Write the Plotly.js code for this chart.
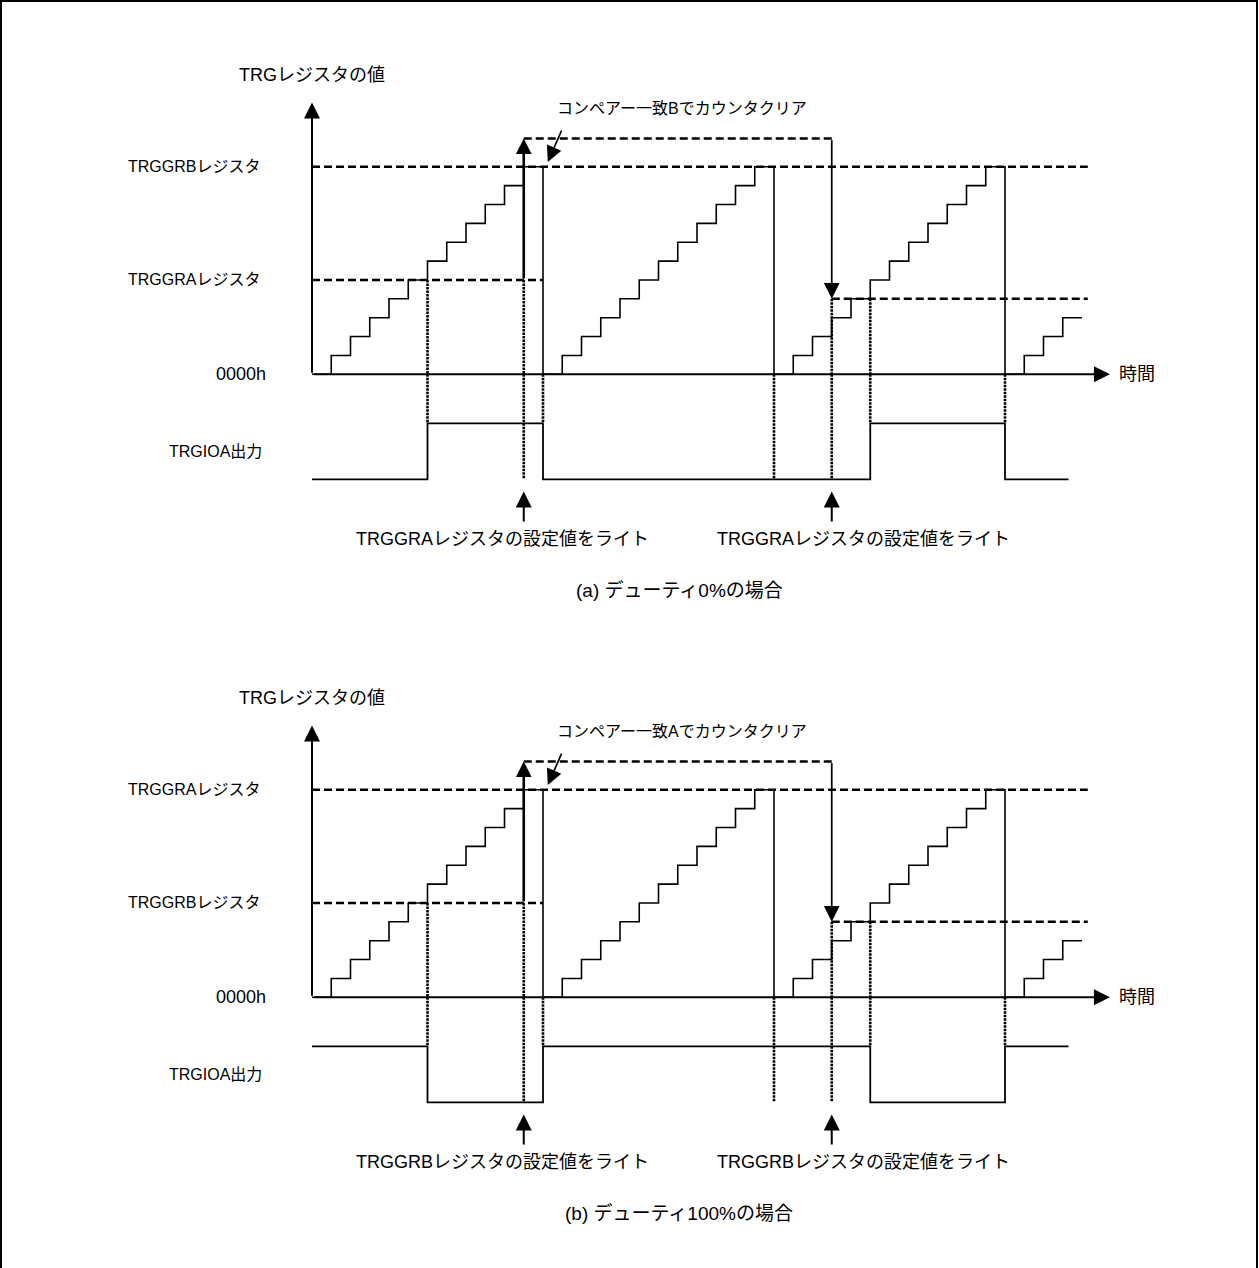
<!DOCTYPE html>
<html>
<head>
<meta charset="utf-8">
<script src="https://cdn.plot.ly/plotly-3.0.1.min.js"></script>
<style>html,body{margin:0;padding:0;background:#fff;}</style>
</head>
<body>
<div id="chart" style="width:1259px;height:1268px;"></div>
<script>
// ================= DATA =================
// counter value (TRG register) at each count tick, step-wise
const COUNT_T = [0,1,2,3,4,5,6,7,8,9,10,11,12,13,14,15,16,17,18,19,20,21,22,23,24,25,26,27,28,29,30,31,32,33,34,35,36,37,38,39,40];
const COUNT_V = [0,1,2,3,4,5,6,7,8,9,10,11,0,1,2,3,4,5,6,7,8,9,10,11,0,1,2,3,4,5,6,7,8,9,10,11,0,1,2,3,3];
// TRGIOA output level (1 = high, 0 = low) changes
const IOA_T = [0, 6, 12, 29, 36, 39.3];
const IOA_A = [0, 1, 0, 1, 0, 0];   // (a) duty 0%
const IOA_B = [1, 0, 1, 0, 1, 1];   // (b) duty 100%
// register levels (counts)
const CLEAR_LEVEL = 11;       // register that clears the counter
const DUTY_LEVEL_OLD = 5;     // duty register before the write
const DUTY_LEVEL_NEW = 4;     // duty register after the write
const DUTY_OLD_END_T = 12;
const LEVEL_END_T = 40.3;
const WRITE_T = 11;           // register written
const WRITE_EFFECT_T = 27;    // new value takes effect
const WRITE_PATH_LEVEL = 12.5;
const CLEAR_T = 12;           // compare match -> counter clear
// dotted guide lines: time, counter level, output level
const GUIDE_T = [6, 11, 12, 24, 27, 29, 36];
const GUIDE_V = [5, 5, 0, 0, 4, 4, 0];
const GUIDE_IOA = [1, 0, 1, 0, 0, 1, 1];
const AXIS_T_END = 41.45;
const AXIS_V_END = 14.4;
// text
const Y_TITLE = 'TRGレジスタの値';
const X_TITLE = '時間';
const ZERO_LABEL = '0000h';
const IOA_LABEL = 'TRGIOA出力';
const PANEL_TEXT = [
  {clear: 'TRGGRBレジスタ', duty: 'TRGGRAレジスタ', match: 'コンペアー一致Bでカウンタクリア',
   write: 'TRGGRAレジスタの設定値をライト', caption: '(a) デューティ0%の場合'},
  {clear: 'TRGGRAレジスタ', duty: 'TRGGRBレジスタ', match: 'コンペアー一致Aでカウンタクリア',
   write: 'TRGGRBレジスタの設定値をライト', caption: '(b) デューティ100%の場合'}
];

// ================= LAYOUT GEOMETRY =================
const W = 1259, H = 1268;
const X0 = 312, PXT = 19.25, PXV = 18.87;
const IOA_PX = 56, IOA_LOW_OFF = 105;
const PANEL_V0 = [374.3, 997.3];
const FAMILY = "'Liberation Sans', Arial, 'Noto Sans CJK JP', sans-serif";
const FONT = {family: FAMILY, size: 18, color: '#000'};
const FONT_S = {family: FAMILY, size: 16, color: '#000'};
const FONT_L = {family: FAMILY, size: 19, color: '#000'};
const px = x => x / W;
const py = y => 1 - y / H;
const dom = (yb, yt) => [py(yb), py(yt)];

const CNT_RANGE = [-0.6, 16.5];
const IOA_RANGE = [-1.0, IOA_LOW_OFF / IOA_PX];

const traces = [];
const annotations = [];
const shapes = [];
const layout = {
  width: W, height: H,
  margin: {l: 0, r: 0, t: 0, b: 0, pad: 0},
  paper_bgcolor: '#fff', plot_bgcolor: 'rgba(0,0,0,0)',
  showlegend: false,
  font: FONT,
  xaxis: {domain: [0, 1], range: [-X0 / PXT, (W - X0) / PXT], visible: false, fixedrange: true}
};

function arrow(x, y, ax, ay, yref, w, size) {
  annotations.push({x: x, y: y, ax: ax, ay: ay, xref: 'x', yref: yref, axref: 'x', ayref: yref,
    text: '', showarrow: true, arrowhead: 2, arrowsize: size, arrowwidth: w, arrowcolor: '#000', standoff: 0});
}
function label(text, x, xref, y, yref, xanchor, font) {
  annotations.push({text: text, x: x, xref: xref, y: y, yref: yref, xanchor: xanchor, yanchor: 'middle',
    showarrow: false, font: font || FONT});
}

PANEL_V0.forEach((v0, p) => {
  const yc = p === 0 ? 'y' : 'y3';
  const yi = p === 0 ? 'y2' : 'y4';
  const T = PANEL_TEXT[p];
  layout[p === 0 ? 'yaxis' : 'yaxis3'] = {anchor: 'x', domain: dom(v0 - CNT_RANGE[0] * PXV, v0 - CNT_RANGE[1] * PXV),
    range: CNT_RANGE, visible: false, fixedrange: true};
  layout[p === 0 ? 'yaxis2' : 'yaxis4'] = {anchor: 'x', domain: dom(v0 + IOA_LOW_OFF - IOA_RANGE[0] * IOA_PX, v0),
    range: IOA_RANGE, visible: false, fixedrange: true};

  // counter staircase
  traces.push({type: 'scatter', mode: 'lines', x: COUNT_T, y: COUNT_V, xaxis: 'x', yaxis: yc,
    line: {shape: 'hv', color: '#000', width: 1.6}, hoverinfo: 'skip'});
  // output waveform
  traces.push({type: 'scatter', mode: 'lines', x: IOA_T, y: p === 0 ? IOA_A : IOA_B, xaxis: 'x', yaxis: yi,
    line: {shape: 'hv', color: '#000', width: 1.8}, hoverinfo: 'skip'});
  // dashed register levels
  traces.push({type: 'scatter', mode: 'lines', xaxis: 'x', yaxis: yc, hoverinfo: 'skip',
    x: [0, LEVEL_END_T, null, 0, DUTY_OLD_END_T, null, WRITE_EFFECT_T, LEVEL_END_T, null, WRITE_T, WRITE_EFFECT_T],
    y: [CLEAR_LEVEL, CLEAR_LEVEL, null, DUTY_LEVEL_OLD, DUTY_LEVEL_OLD, null, DUTY_LEVEL_NEW, DUTY_LEVEL_NEW, null, WRITE_PATH_LEVEL, WRITE_PATH_LEVEL],
    line: {color: '#000', width: 2.5, dash: '8px,4px'}});
  // dotted guides
  const gx = [], gy = [], hx = [], hy = [];
  GUIDE_T.forEach((t, i) => {
    gx.push(t, t, null); gy.push(GUIDE_V[i], 0, null);
    hx.push(t, t, null); hy.push(IOA_RANGE[1], GUIDE_IOA[i], null);
  });
  traces.push({type: 'scatter', mode: 'lines', x: gx, y: gy, xaxis: 'x', yaxis: yc, hoverinfo: 'skip',
    line: {color: '#000', width: 2.6, dash: '2.5px,1px'}});
  traces.push({type: 'scatter', mode: 'lines', x: hx, y: hy, xaxis: 'x', yaxis: yi, hoverinfo: 'skip',
    line: {color: '#000', width: 2.6, dash: '2.5px,1px'}});

  // axes arrows
  arrow(0, AXIS_V_END, 0, 0, yc, 2, 1.6);
  arrow(AXIS_T_END, 0, 0, 0, yc, 2, 1.6);
  // write path arrows
  arrow(WRITE_T, WRITE_PATH_LEVEL, WRITE_T, DUTY_LEVEL_OLD, yc, 2.6, 1.2);
  arrow(WRITE_EFFECT_T, DUTY_LEVEL_NEW, WRITE_EFFECT_T, WRITE_PATH_LEVEL, yc, 1.7, 1.85);
  // compare match arrow
  arrow(CLEAR_T + 0.25, CLEAR_LEVEL + 0.25, CLEAR_T + 1.0, CLEAR_LEVEL + 2.0, yc, 1.7, 1.85);
  // write markers below output
  arrow(WRITE_T, -0.22, WRITE_T, -0.78, yi, 2, 1.6);
  arrow(WRITE_EFFECT_T, -0.22, WRITE_EFFECT_T, -0.78, yi, 2, 1.6);

  // labels
  label(Y_TITLE, px(X0), 'paper', py(v0 - 299.3), 'paper', 'center');
  label(T.clear, px(262), 'paper', CLEAR_LEVEL, yc, 'right', FONT_S);
  label(T.duty, px(262), 'paper', DUTY_LEVEL_OLD, yc, 'right', FONT_S);
  label(ZERO_LABEL, px(268), 'paper', 0, yc, 'right');
  label(IOA_LABEL, px(264), 'paper', 0.5, yi, 'right', FONT_S);
  label(X_TITLE, px(1117), 'paper', 0, yc, 'left');
  label(T.match, px(555), 'paper', py(v0 - 266.3), 'paper', 'left', FONT_S);
  label(T.write, px(502), 'paper', py(v0 + 165), 'paper', 'center');
  label(T.write, px(863), 'paper', py(v0 + 165), 'paper', 'center');
  label(T.caption, px(679), 'paper', py(v0 + 216), 'paper', 'center', FONT_L);
});

// frame
shapes.push({type: 'rect', xref: 'paper', yref: 'paper', x0: px(1), x1: px(1257), y0: -0.02, y1: py(1),
  line: {color: '#000', width: 2}, fillcolor: 'rgba(0,0,0,0)'});

layout.annotations = annotations;
layout.shapes = shapes;

Plotly.newPlot('chart', traces, layout, {staticPlot: true, displayModeBar: false});
</script>
</body>
</html>
